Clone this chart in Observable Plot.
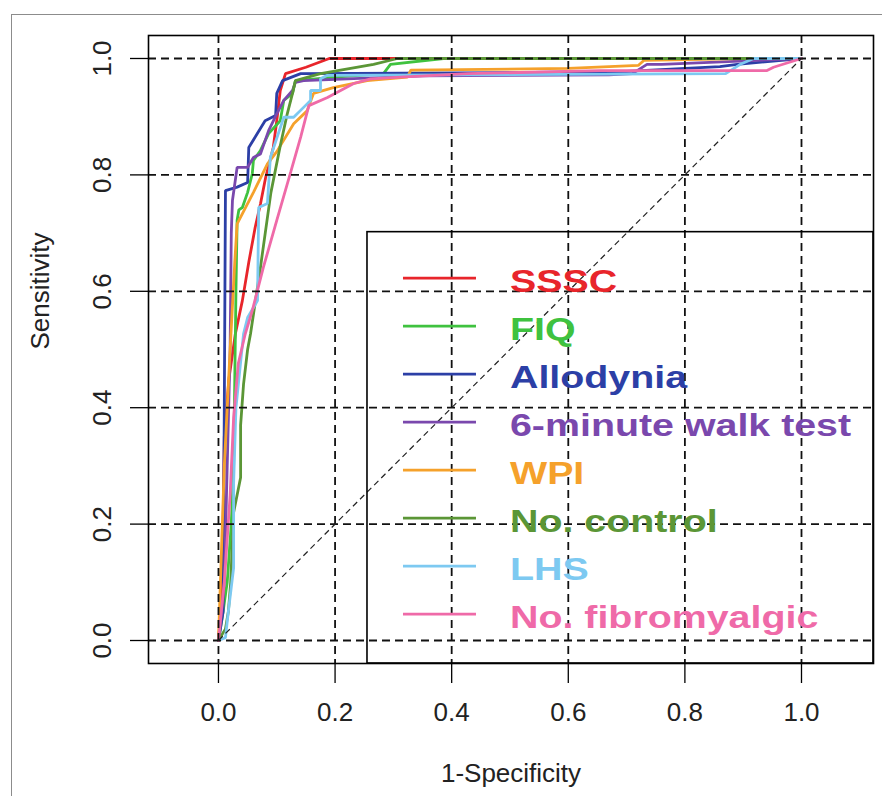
<!DOCTYPE html>
<html><head><meta charset="utf-8">
<script src="https://cdn.jsdelivr.net/npm/d3@7"></script>
<script src="https://cdn.jsdelivr.net/npm/@observablehq/plot@0.6"></script>
<style>
body{margin:0;background:#fff;overflow:hidden}
#wrap{position:relative;width:882px;height:796px;overflow:hidden;background:#fff}
#border{position:absolute;left:11px;top:14px;width:1000px;height:1000px;border:1.5px solid #8c8c8c;box-sizing:border-box}
#wrap svg{position:absolute;left:0;top:0}
</style></head><body><div id="wrap"><div id="border"></div></div>
<script>
// ROC curves: [1-Specificity, Sensitivity]
const SSSC = [[0,0],[0.004,0.05],[0.008,0.2],[0.01,0.35],[0.018,0.45],[0.029,0.527],[0.041,0.584],[0.052,0.65],[0.063,0.71],[0.072,0.75],[0.081,0.796],[0.094,0.847],[0.1,0.893],[0.106,0.945],[0.115,0.974],[0.15,0.985],[0.19,1.0],[1,1]];
const FIQ = [[0,0],[0.008,0.05],[0.015,0.1],[0.022,0.2],[0.026,0.3],[0.028,0.45],[0.03,0.6],[0.032,0.722],[0.035,0.74],[0.041,0.744],[0.05,0.77],[0.058,0.802],[0.06,0.825],[0.072,0.842],[0.086,0.871],[0.106,0.893],[0.112,0.928],[0.127,0.94],[0.132,0.962],[0.2,0.968],[0.283,0.974],[0.295,0.99],[0.386,1.0],[1,1]];
const Allodynia = [[0,0],[0.008,0.05],[0.01,0.4],[0.012,0.773],[0.032,0.779],[0.05,0.787],[0.052,0.847],[0.063,0.865],[0.08,0.893],[0.098,0.902],[0.1,0.94],[0.11,0.962],[0.141,0.974],[0.54,0.976],[0.7,0.978],[0.86,0.986],[0.89,0.99],[1,1]];
const Walk6 = [[0,0],[0.01,0.1],[0.015,0.3],[0.02,0.5],[0.022,0.7],[0.024,0.756],[0.032,0.813],[0.05,0.813],[0.06,0.83],[0.072,0.836],[0.086,0.876],[0.1,0.905],[0.112,0.928],[0.127,0.945],[0.132,0.959],[0.146,0.962],[0.35,0.97],[0.67,0.972],[0.71,0.974],[0.735,0.99],[0.76,0.99],[1,1]];
const WPI = [[0,0],[0.005,0.15],[0.01,0.3],[0.02,0.5],[0.028,0.65],[0.032,0.716],[0.06,0.77],[0.084,0.819],[0.1,0.84],[0.129,0.888],[0.152,0.91],[0.163,0.94],[0.197,0.95],[0.255,0.962],[0.324,0.968],[0.33,0.98],[0.6,0.983],[0.72,0.988],[0.73,0.997],[0.9,1.0],[1,1]];
const NoControl = [[0,0],[0.012,0.02],[0.017,0.05],[0.021,0.1],[0.026,0.22],[0.038,0.28],[0.038,0.37],[0.043,0.44],[0.05,0.5],[0.055,0.527],[0.072,0.641],[0.09,0.77],[0.106,0.85],[0.118,0.905],[0.127,0.94],[0.132,0.962],[0.175,0.974],[0.266,0.99],[0.307,1.0],[1,1]];
const LHS = [[0,0],[0.012,0.005],[0.017,0.05],[0.026,0.125],[0.026,0.27],[0.03,0.4],[0.043,0.527],[0.05,0.555],[0.067,0.584],[0.069,0.744],[0.084,0.751],[0.089,0.83],[0.112,0.899],[0.129,0.899],[0.146,0.916],[0.158,0.928],[0.158,0.945],[0.175,0.945],[0.175,0.965],[0.187,0.971],[0.87,0.974],[0.895,0.99],[0.918,1.0],[1,1]];
const NoFibro = [[0,0],[0.01,0.1],[0.02,0.25],[0.026,0.383],[0.034,0.476],[0.046,0.527],[0.058,0.567],[0.077,0.641],[0.1,0.722],[0.124,0.805],[0.141,0.865],[0.155,0.919],[0.187,0.933],[0.232,0.957],[0.261,0.965],[0.312,0.968],[0.427,0.974],[0.655,0.979],[0.94,0.979],[0.952,0.985],[1,1]];

const seriesNames = ["SSSC","FIQ","Allodynia","6-minute walk test","WPI","No. control","LHS","No. fibromyalgic"];
const seriesData = [SSSC, FIQ, Allodynia, Walk6, WPI, NoControl, LHS, NoFibro];
const seriesColors = ["#e8252b","#3fc23f","#2c3fa6","#7a48ad","#f5a12b","#5b9636","#7dc9f1","#ef6aa8"];
const tickValues = [0, 0.2, 0.4, 0.6, 0.8, 1.0];
const diagonal = [0, 1];

const rows = seriesData.flatMap((pts, i) => pts.map(([fpr, tpr]) => ({series: seriesNames[i], fpr, tpr})));

const plot = Plot.plot({
  width: 882, height: 796,
  marginLeft: 148, marginRight: 9, marginTop: 35, marginBottom: 133,
  x: {domain: [-0.12, 1.1235], label: null},
  y: {domain: [-0.0395, 1.0395], label: null},
  color: {domain: seriesNames, range: seriesColors},
  style: {fontFamily: "'Liberation Sans', Arial, sans-serif", fontSize: "26px", background: "transparent", overflow: "visible"},
  marks: [
    Plot.line(rows, {x: "fpr", y: "tpr", z: "series", stroke: "series", strokeWidth: 2.8, strokeLinejoin: "miter"}),
    Plot.gridX(tickValues, {stroke: "#111", strokeOpacity: 1, strokeWidth: 1.8, strokeDasharray: "8,5"}),
    Plot.gridY(tickValues, {stroke: "#111", strokeOpacity: 1, strokeWidth: 1.8, strokeDasharray: "8,5"}),
    Plot.link([0], {x1: () => diagonal[0], y1: () => diagonal[0], x2: () => diagonal[1], y2: () => diagonal[1], stroke: "#222", strokeWidth: 1.2, strokeDasharray: "6,4"}),
    Plot.frame({stroke: "#000", strokeWidth: 1.6}),
    Plot.axisX({ticks: tickValues, label: null, tickSize: 20, tickPadding: 19, tickFormat: d3.format(".1f"), fill: "#222", stroke: "#000", strokeWidth: 1.3}),
    Plot.axisY({ticks: tickValues, label: null, tickSize: 18, tickPadding: 20, tickRotate: -90, tickFormat: d3.format(".1f"), fill: "#222", stroke: "#000", strokeWidth: 1.3}),
    Plot.text(["1-Specificity"], {frameAnchor: "bottom", dy: 118, text: d => d, fill: "#222"}),
    Plot.text(["Sensitivity"], {frameAnchor: "left", dx: -108, rotate: -90, text: d => d, fill: "#222"})
  ]
});

document.getElementById("wrap").appendChild(plot);

// Legend (bottom-right, unfilled box like R's legend())
const xs = plot.scale("x"), ys = plot.scale("y");
const legendCorner = [0.2556, 0.7016];
const bx = xs.apply(legendCorner[0]), by = ys.apply(legendCorner[1]);
const bRight = 882 - 9, bBottom = 796 - 133;
const svg = d3.select(plot);
const g = svg.append("g").attr("text-anchor", "start");
g.append("rect").attr("x", bx).attr("y", by).attr("width", bRight - bx).attr("height", bBottom - by)
  .attr("fill", "none").attr("stroke", "#000").attr("stroke-width", 1.6);
seriesNames.forEach((name, i) => {
  const ry = by + 46.5 + i * 48;
  g.append("line").attr("x1", bx + 36).attr("x2", bx + 109).attr("y1", ry).attr("y2", ry)
    .attr("stroke", seriesColors[i]).attr("stroke-width", 2.6);
  g.append("text").attr("transform", `translate(${bx + 143},${ry + 14}) scale(1.23,1)`)
    .attr("text-anchor", "start")
    .attr("font-family", "'Liberation Sans', Arial, sans-serif").attr("font-weight", "bold")
    .attr("font-size", 32).attr("fill", seriesColors[i]).text(name);
});
</script></body></html>
